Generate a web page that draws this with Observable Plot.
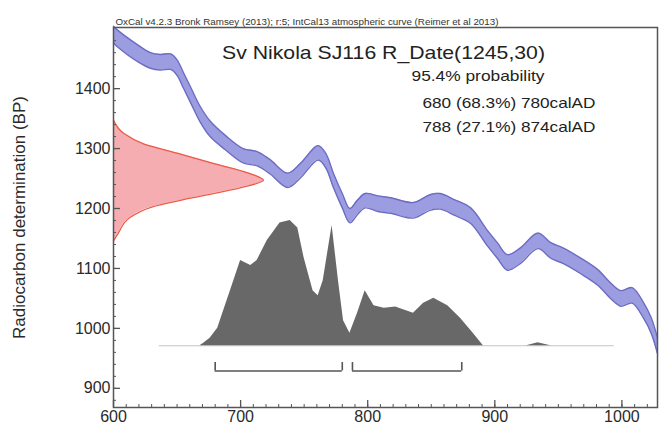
<!DOCTYPE html>
<html><head><meta charset="utf-8">
<script src="https://cdn.jsdelivr.net/npm/d3@7"></script>
<script src="https://cdn.jsdelivr.net/npm/@observablehq/plot@0.6"></script>
<style>body{margin:0;background:#fff} svg{display:block}</style>
</head><body><div id="chart"></div>
<script>
// Calibration curve (IntCal13): year AD, BP centre, 1-sigma half width
const curveYears = [600, 603, 619, 629, 637, 645, 650, 655, 661, 668, 676, 688, 702, 713, 723, 737, 747, 761, 767, 773, 780, 786, 792, 798, 808, 818, 836, 849, 857, 868, 881, 894, 902, 910, 920, 934, 944, 954, 967, 981, 991, 999, 1008, 1017, 1023, 1028];
const curveBP    = [1490, 1484, 1459, 1447, 1444, 1445, 1435, 1414, 1388, 1358, 1333, 1310, 1288, 1283, 1270, 1247, 1263, 1293, 1280, 1247, 1213, 1188, 1202, 1213, 1208, 1205, 1197, 1210, 1212, 1202, 1188, 1151, 1130, 1110, 1121, 1146, 1130, 1121, 1105, 1085, 1063, 1050, 1055, 1030, 1005, 971];
const curveErr   = [14, 14, 14, 13, 13, 13, 13, 13, 13, 13, 13, 12, 12, 12, 12, 12, 12, 12, 12, 12, 12, 12, 12, 12, 13, 13, 13, 13, 13, 13, 13, 13, 13, 13, 13, 13, 13, 13, 13, 13, 13, 13, 13, 13, 13, 13];

// Radiocarbon measurement R_Date(1245,30): BP levels and relative density
const redBP      = [1347, 1325, 1308, 1292, 1275, 1260, 1247, 1235, 1218, 1202, 1185, 1158, 1146];
const redDensity = [0, 0.07, 0.2, 0.43, 0.67, 0.89, 1.0, 0.85, 0.53, 0.25, 0.11, 0.03, 0];

// Calibrated probability distribution (relative)
const postYears = [668, 671, 676, 682, 692, 700, 708, 713, 721, 731, 739, 745, 750, 757, 761, 765, 772, 777, 781, 786, 792, 798, 805, 813, 822, 836, 844, 852, 863, 873, 883, 891, 925, 934, 944];
const postProb  = [0, 0.02, 0.06, 0.14, 0.44, 0.68, 0.64, 0.68, 0.84, 0.98, 1.0, 0.94, 0.70, 0.44, 0.40, 0.52, 0.96, 0.52, 0.20, 0.10, 0.26, 0.44, 0.32, 0.30, 0.31, 0.26, 0.34, 0.38, 0.32, 0.22, 0.10, 0, 0, 0.025, 0];

// 95.4% ranges
const rangeFrom = [680, 788];
const rangeTo   = [780, 874];

const xTicks = [600, 700, 800, 900, 1000];
const yTicks = [900, 1000, 1100, 1200, 1300, 1400];

const captionText = "OxCal v4.2.3 Bronk Ramsey (2013); r:5; IntCal13 atmospheric curve (Reimer et al 2013)";
const titleText = "Sv Nikola SJ116 R_Date(1245,30)";
const statLines = ["95.4% probability", "680 (68.3%) 780calAD", "788 (27.1%) 874calAD"];
const yLabel = "Radiocarbon determination (BP)";

const curve = curveYears.map((year, i) => ({year, lo: curveBP[i] - curveErr[i], hi: curveBP[i] + curveErr[i]}));
const red = redBP.map((bp, i) => ({bp, d: redDensity[i]}));
const post = postYears.map((year, i) => ({year, p: postProb[i]}));
const ranges = rangeFrom.map((a, i) => ({a, b: rangeTo[i]}));

const base = 971;      // baseline of calibrated distribution (BP units)
const postH = 209;     // display height of distribution (BP units)
const redW = 118;      // display width of measurement density (years)
const brY = 929, brTop = 943;

const minorX = d3.range(600, 1030, 10);
const minorY = d3.range(880, 1500, 20);
const frameW = 659 - 113 - 2, frameH = 425 - 27 - 18;

const plot = Plot.plot({
  width: 659, height: 425,
  marginLeft: 113, marginRight: 2, marginTop: 27, marginBottom: 18,
  x: {domain: [600, 1028]},
  y: {domain: [868, 1502]},
  style: {fontFamily: "'Liberation Sans', Arial, sans-serif", background: "white", color: "#2a2a2a"},
  marks: [
    Plot.areaY(curve, {x: "year", y1: "lo", y2: "hi", fill: "#9c9ce0", curve: "catmull-rom"}),
    Plot.lineY(curve, {x: "year", y: "hi", stroke: "#6c6cc4", strokeWidth: 1.4, curve: "catmull-rom"}),
    Plot.lineY(curve, {x: "year", y: "lo", stroke: "#6c6cc4", strokeWidth: 1.4, curve: "catmull-rom"}),
    Plot.ruleY([base], {x1: 636, x2: 994, stroke: "#c4c4c4", strokeWidth: 1}),
    Plot.areaY(post, {x: "year", y1: base, y2: d => base + d.p * postH, fill: "#686868"}),
    Plot.areaX(red, {y: "bp", x1: 600, x2: d => 600 + d.d * redW, fill: "#f4a6ab", fillOpacity: 0.92, curve: "monotone-y"}),
    Plot.lineX(red, {y: "bp", x: d => 600 + d.d * redW, stroke: "#ec5a48", strokeWidth: 1.3, curve: "monotone-y"}),
    Plot.ruleY(ranges, {y: brY, x1: "a", x2: "b", stroke: "#555", strokeWidth: 1.6}),
    Plot.ruleX(ranges, {x: "a", y1: brY, y2: brTop, stroke: "#555", strokeWidth: 1.6}),
    Plot.ruleX(ranges, {x: "b", y1: brY, y2: brTop, stroke: "#555", strokeWidth: 1.6}),
    Plot.tickX(minorX, {x: d => d, insetTop: frameH - 3, stroke: "#555"}),
    Plot.tickX(xTicks, {x: d => d, insetTop: frameH - 7, stroke: "#555", strokeWidth: 1.3}),
    Plot.tickY(minorY, {y: d => d, insetRight: frameW - 3, stroke: "#555"}),
    Plot.tickY(yTicks, {y: d => d, insetRight: frameW - 7, stroke: "#555", strokeWidth: 1.3}),
    Plot.frame({stroke: "#555", strokeWidth: 1.5}),
    Plot.axisX(xTicks, {tickSize: 0, tickPadding: 3, fontSize: 16, label: null, tickFormat: "d", fill: "#2a2a2a"}),
    Plot.axisY(yTicks, {tickSize: 0, tickPadding: 3, fontSize: 16, label: null, tickFormat: "d", fill: "#2a2a2a"}),
    Plot.text([yLabel], {text: d => d, frameAnchor: "left", dx: -94, rotate: -90, textAnchor: "middle", fontSize: 17, fill: "#2a2a2a"}),
    Plot.text([captionText], {text: d => d, frameAnchor: "top-left", dx: 2, dy: -3, lineAnchor: "bottom", textAnchor: "start", fontSize: 8.5, fill: "#333", className: "cap"}),
    Plot.text([titleText], {text: d => d, frameAnchor: "top-left", dx: 270, dy: 18, textAnchor: "middle", fontSize: 19, fill: "#222", className: "ttl"}),
    Plot.text([statLines[0]], {text: d => d, frameAnchor: "top-left", dx: 298, dy: 43, textAnchor: "start", fontSize: 15, fill: "#222", className: "st0"}),
    Plot.text([statLines[1]], {text: d => d, frameAnchor: "top-left", dx: 309, dy: 70, textAnchor: "start", fontSize: 15, fill: "#222", className: "st1"}),
    Plot.text([statLines[2]], {text: d => d, frameAnchor: "top-left", dx: 309, dy: 94, textAnchor: "start", fontSize: 15, fill: "#222", className: "st2"})
  ]
});

const sel = d3.select(plot);
const fit = (cls, len) => sel.selectAll("g." + cls + " text").attr("textLength", len).attr("lengthAdjust", "spacingAndGlyphs");
fit("cap", 383);
fit("ttl", 323);
fit("st0", 133);
fit("st1", 173);
fit("st2", 173);

document.getElementById("chart").append(plot);
</script>
</body></html>
